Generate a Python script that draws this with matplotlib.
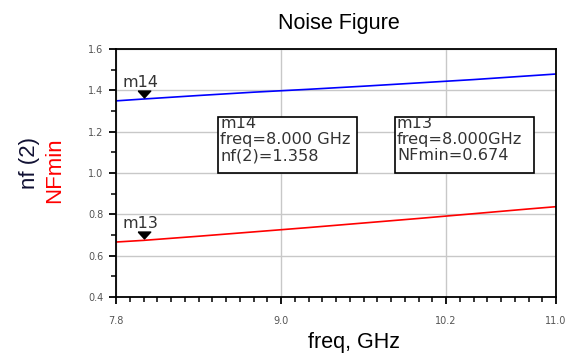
import numpy as np
import matplotlib
matplotlib.use('Agg')
import matplotlib.pyplot as plt
from matplotlib.ticker import MultipleLocator
from matplotlib.patches import Rectangle

# data
freq = [7.8, 8.0, 8.4, 8.8, 9.2, 9.6, 10.0, 10.4, 10.8, 11.0]
nf2 = [1.349, 1.358, 1.375, 1.391, 1.405, 1.420, 1.436, 1.452, 1.470, 1.479]
nfmin = [0.666, 0.674, 0.694, 0.715, 0.736, 0.758, 0.780, 0.803, 0.826, 0.837]

xticks = [7.8, 9.0, 10.2, 11.0]
xtick_labels = ['7.8', '9.0', '10.2', '11.0']
yticks = [0.4, 0.6, 0.8, 1.0, 1.2, 1.4, 1.6]

# marker readouts
marker_names = ['m14', 'm13']
marker_freq = [8.0, 8.0]
marker_vals = [1.358, 0.674]
marker_text = ['m14\nfreq=8.000 GHz\nnf(2)=1.358',
               'm13\nfreq=8.000GHz\nNFmin=0.674']

fig = plt.figure(figsize=(5.74, 3.55), dpi=100)
ax = fig.add_axes([116 / 574, 58 / 355, 440 / 574, 248 / 355])

ax.plot(freq, nf2, color='#0000ff', lw=1.2)
ax.plot(freq, nfmin, color='#ff0000', lw=1.2)

ax.set_xlim(7.8, 11.0)
ax.set_ylim(0.4, 1.6)
ax.set_xticks(xticks)
ax.set_xticklabels(xtick_labels)
ax.set_yticks(yticks)
ax.set_yticklabels([f'{v:.1f}' for v in yticks])
ax.xaxis.set_minor_locator(MultipleLocator(0.1))
ax.yaxis.set_minor_locator(MultipleLocator(0.1))
ax.grid(True, which='major', color='#c8c8c8', lw=1.0)
ax.tick_params(which='major', direction='out', length=5, width=1.3,
               labelsize=7, labelcolor='#555555')
ax.tick_params(which='minor', direction='out', length=3.5, width=1.1)
ax.tick_params(axis='x', pad=9)
ax.tick_params(axis='y', pad=4)
for s in ax.spines.values():
    s.set_linewidth(1.3)
    s.set_color('black')

# flat downward triangle like the ADS marker
tri = [(-1.0, 0.55), (1.0, 0.55), (0.0, -0.55), (-1.0, 0.55)]

# marker triangles and names
for name, x, y in zip(marker_names, marker_freq, marker_vals):
    ax.plot(x, y + 0.026, marker=tri, color='black', ms=9, clip_on=False)
    ax.text(7.85, y + 0.058, name, fontsize=11.5, color='#333333',
            ha='left', va='baseline')

# readout boxes
box_left = [218, 395]
for left, txt in zip(box_left, marker_text):
    x0 = (left - 116) / 440
    ax.add_patch(Rectangle((x0, (297 - 173) / 248), 139 / 440, 56 / 248,
                           transform=ax.transAxes, fc='white', ec='black',
                           lw=1.2, zorder=4))
    ax.text(x0 + 2 / 440, (297 - 116) / 248, txt, transform=ax.transAxes,
            fontsize=11.6, color='#333333', ha='left', va='top',
            linespacing=1.1, zorder=5)

fig.text(339 / 574, 1 - 29 / 355, 'Noise Figure', fontsize=15.5,
         family='Liberation Sans', ha='center', va='baseline')
fig.text(354 / 574, 1 - 348 / 355, 'freq, GHz', fontsize=15.5,
         family='Liberation Sans', ha='center', va='baseline')
fig.text(30 / 574, 1 - 137 / 355, 'nf (2)', fontsize=16, family='Liberation Sans',
         rotation=90, ha='center', va='top', color='#111133')
fig.text(55 / 574, 1 - 137 / 355, 'NFmin', fontsize=16, family='Liberation Sans',
         rotation=90, ha='center', va='top', color='#ff0000')

plt.savefig('out.png', dpi=100)
